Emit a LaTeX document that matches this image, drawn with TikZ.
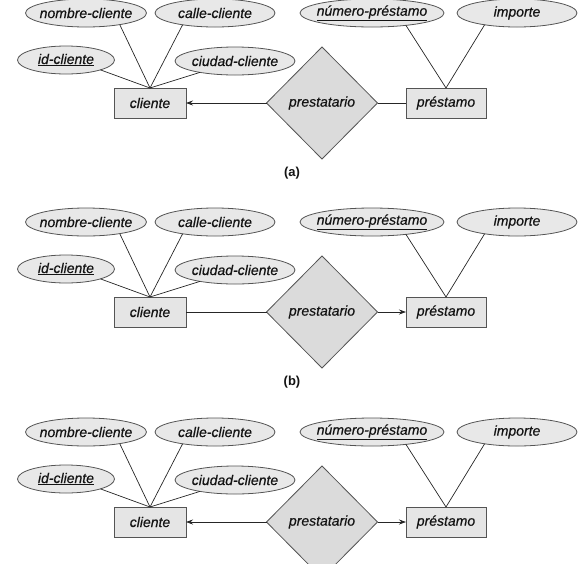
\documentclass[tikz,border=0pt]{standalone}
\usepackage{fontspec}
\setmainfont{Liberation Sans}[ItalicFeatures={FakeBold=0.45}]
\usetikzlibrary{shapes.geometric,arrows.meta}
\definecolor{attrfill}{gray}{0.91}
\definecolor{entfill}{gray}{0.90}
\definecolor{relfill}{gray}{0.86}
\definecolor{edgecol}{gray}{0.33}
\definecolor{txtcol}{gray}{0.08}
\tikzset{
  attr/.style={ellipse, draw=edgecol, fill=attrfill, line width=0.8pt,
    minimum height=28pt, inner sep=0pt, outer sep=0pt},
  attrtext/.style={font=\fontsize{14}{16}\selectfont\itshape, text=txtcol, inner sep=0pt},
  ent/.style={rectangle, draw=edgecol, fill=entfill, line width=0.9pt,
    minimum height=30pt, inner sep=0pt, outer sep=0pt,
    font=\fontsize{14}{16}\selectfont\itshape, text=txtcol},
  rel/.style={diamond, draw=edgecol, fill=relfill, line width=0.8pt,
    minimum width=111pt, minimum height=112pt, inner sep=0pt, outer sep=0pt,
    font=\fontsize{14}{16}\selectfont\itshape, text=txtcol},
  link/.style={draw=black!85, line width=0.7pt},
  arr/.style={link, -{Stealth[length=7pt,width=5pt]}},
  panellabel/.style={font=\fontsize{13}{15}\selectfont\bfseries, text=txtcol},
}
\newcommand\erpanel[2]{%
  \node[attr, minimum width=121pt, label={[attrtext]center:nombre-cliente}] (#1nc) at (86,#2+13) {};
  \node[attr, minimum width=120pt, label={[attrtext]center:calle-cliente}] (#1cc) at (215,#2+13) {};
  \node[attr, minimum width=97pt, label={[attrtext]center:\underline{id-cliente}}] (#1ic) at (66,#2+60) {};
  \node[attr, minimum width=120pt, label={[attrtext]center:ciudad-cliente}] (#1ci) at (235,#2+61) {};
  \node[attr, minimum width=144pt, label={[attrtext]center:\underline{número-préstamo}}] (#1np) at (372,#2+13) {};
  \node[attr, minimum width=120pt, label={[attrtext]center:importe}] (#1im) at (517,#2+13) {};
  \node[ent, minimum width=72pt] (#1cl) at (150,#2+103) {cliente};
  \node[ent, minimum width=80pt] (#1ps) at (446,#2+103) {préstamo};
  \node[rel] (#1pr) at (322,#2+103) {prestatario};
  \draw[link] (#1nc.-19) -- (#1cl.north);
  \draw[link] (#1cc.-160) -- (#1cl.north);
  \draw[link] (#1ic.-16) -- (#1cl.north);
  \draw[link] (#1ci.-162) -- (#1cl.north);
  \draw[link] (#1np.-20) -- (#1ps.north);
  \draw[link] (#1im.-160) -- (#1ps.north);
}
\begin{document}
\begin{tikzpicture}[x=1pt,y=-1pt]
  \useasboundingbox (0,0) rectangle (578,563);
  % (a)
  \erpanel{a}{0}
  \draw[arr] (apr.west) -- (acl.east);
  \draw[link] (apr.east) -- (aps.west);
  \node[panellabel] (la) at (292,173) {(a)};
  % (b)
  \erpanel{b}{209}
  \draw[link] (bpr.west) -- (bcl.east);
  \draw[arr] (bpr.east) -- (bps.west);
  \node[panellabel] (lb) at (292,382) {(b)};
  % (c)
  \erpanel{c}{419}
  \draw[arr] (cpr.west) -- (ccl.east);
  \draw[arr] (cpr.east) -- (cps.west);
\end{tikzpicture}
\end{document}
